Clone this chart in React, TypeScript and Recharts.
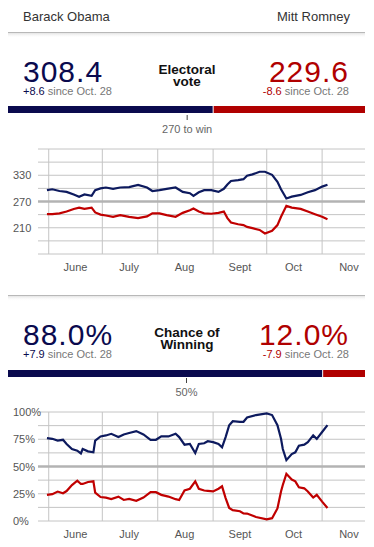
import React from 'react';
import { LineChart, Line, XAxis, YAxis, ReferenceLine, BarChart, Bar } from 'recharts';

const candidates = ['Barack Obama', 'Mitt Romney'];
const electoralNow = [308.4, 229.6];
const electoralChange = [8.6, -8.6];
const chanceNow = [88.0, 12.0];
const chanceChange = [7.9, -7.9];
const totalElectoral = 538;
const toWin = 270;
const sinceLabel = 'since Oct. 28';

// x axis: days counted from June 1
const monthNames = ['June', 'July', 'Aug', 'Sept', 'Oct', 'Nov'];
const monthStarts = [0, 30, 61, 92, 122, 153];
const monthMids = [15, 45, 76, 107, 137, 168];
const dayDomain = [-6, 177];

const evDays = [-1, 2, 6, 10, 14, 17, 20, 24, 26, 29, 32, 36, 40, 45, 50, 55, 58, 62, 66, 71, 75, 79, 81, 84, 87, 91, 95, 98, 100, 102, 106, 109, 111, 114, 118, 121, 125, 128, 130, 133, 136, 141, 145, 149, 153, 156];
const obamaEV = [296, 298, 294, 292, 286, 281, 286, 283, 296, 300, 302, 299, 302, 303, 308, 302, 294, 296, 299, 302, 292, 289, 283, 291, 296, 296, 292, 299, 309, 317, 319, 321, 329, 332, 338, 338, 331, 315, 298, 277, 281, 285, 291, 296, 304, 308.4];
const romneyEV = [241, 241, 243, 247, 253, 256, 253, 256, 245, 240, 238, 235, 239, 235, 232, 236, 243, 243, 239, 235, 244, 250, 254, 247, 243, 242, 244, 247, 232, 222, 218, 216, 212, 209, 205, 197, 203, 216, 235, 260, 256, 253, 247, 241, 235, 229.6];

const chanceDays = [-1, 2, 5, 8, 10, 13, 16, 18, 19, 22, 25, 26, 29, 32, 35, 39, 42, 45, 49, 53, 57, 60, 63, 67, 71, 73, 76, 79, 82, 84, 87, 89, 92, 95, 97, 99, 101, 103, 107, 109, 111, 116, 122, 125, 128, 130, 131, 133, 136, 138, 140, 143, 145, 148, 150, 153, 156];
const obamaChance = [76, 75.4, 73.8, 74.5, 70.7, 66, 64.5, 62, 66, 63.9, 63, 73.8, 77.6, 78.5, 80, 77, 79.4, 80.7, 82.5, 79.4, 74.5, 74.5, 77.6, 77.6, 80, 77, 70, 70.7, 62.3, 70.7, 71.3, 73.2, 72.3, 70.7, 67.6, 77, 87.9, 91.6, 91, 91, 95, 97.2, 98.7, 97.2, 87.9, 75.4, 66, 55.8, 61.4, 63, 69, 70, 72.3, 78.5, 75.4, 81.6, 88];
const romneyChance = [24, 24.6, 27, 25.5, 27.5, 33, 37, 34, 34, 35.8, 36.4, 26, 22, 21.5, 20.2, 22.4, 19.3, 20.2, 18.5, 21.5, 26.4, 26.4, 24, 22.4, 20, 19.3, 28, 29.6, 36.4, 29.6, 28, 27.7, 27.1, 29.6, 31.8, 21, 12, 10, 9, 7, 6.8, 3.7, 1.6, 2.6, 11.5, 27, 33, 43.3, 38, 36.4, 31, 30, 27.1, 21.5, 24, 17.8, 12];

const evTicks = [150, 180, 210, 240, 270, 300, 330, 360, 390];
const evLabels = [210, 270, 330];
const chanceTicks = [0, 12.5, 25, 37.5, 50, 62.5, 75, 87.5, 100];
const chanceLabels = [0, 25, 50, 75, 100];

const NAVY = '#0d1a5e';
const RED = '#c00000';
const BAR_NAVY = '#0a0a4e';
const BAR_RED = '#b00000';
const GRID = '#c4c4c4';
const FONT = '"Liberation Sans", Arial, sans-serif';

const evRows = evDays.map((d, i) => ({ day: d, obama: obamaEV[i], romney: romneyEV[i] }));
const chanceRows = chanceDays.map((d, i) => ({ day: d, obama: obamaChance[i], romney: romneyChance[i] }));

const fmtChange = (v: number) => (v > 0 ? '+' : '') + v.toFixed(1);

const YTick = (props: any) => {
  const { y, payload, labels, fmt } = props;
  if (!labels.includes(payload.value)) return <g />;
  return (
    <text x={13} y={y} dy={4} fill="#555" fontSize={11} fontFamily={FONT}>
      {fmt(payload.value)}
    </text>
  );
};

const RedShape = (p: any) => (
  <rect x={p.x + 1} y={p.y} width={Math.max(0, p.width - 1)} height={p.height} fill={p.fill} />
);

// axes shared by the grid layer and the line layer, so both get the same plot box
function axes(ticks: number[], domain: number[], labels: number[] | null, fmt: any) {
  const show = labels !== null;
  return [
    <XAxis
      key="x0"
      type="number"
      dataKey="day"
      domain={dayDomain}
      ticks={monthStarts}
      interval={0}
      tick={false}
      axisLine={false}
      tickLine={show ? { stroke: GRID } : false}
      tickSize={4}
      height={4}
      allowDataOverflow
    />,
    <XAxis
      key="x1"
      xAxisId="months"
      type="number"
      dataKey="day"
      domain={dayDomain}
      ticks={monthMids}
      interval={0}
      tickFormatter={(v: number) => monthNames[monthMids.indexOf(v)]}
      axisLine={false}
      tickLine={false}
      tickSize={0}
      tickMargin={5}
      height={22}
      tick={show ? { fill: '#555', fontSize: 11 } : false}
      allowDataOverflow
    />,
    <YAxis
      key="y"
      type="number"
      domain={domain}
      ticks={ticks}
      interval={0}
      width={38}
      axisLine={false}
      tickLine={false}
      tick={show ? <YTick labels={labels} fmt={fmt} /> : false}
      allowDataOverflow
    />,
  ];
}

function TrendChart({ rows, ticks, labels, domain, midline, fmt, top, height, marginTop }: any) {
  const margin = { top: marginTop, right: 9, bottom: 0, left: 0 };
  return (
    <div style={{ position: 'absolute', left: 0, top, width: 374, height }}>
      <div style={{ position: 'absolute', left: 0, top: 0 }}>
        <LineChart width={374} height={height} data={rows} margin={margin}>
          {axes(ticks, domain, labels, fmt)}
          {ticks.filter((t: number) => t !== midline).map((t: number) => (
            <ReferenceLine key={'h' + t} y={t} stroke={GRID} strokeWidth={1} />
          ))}
          {monthStarts.map((m) => (
            <ReferenceLine key={'v' + m} x={m} stroke={GRID} strokeWidth={1} />
          ))}
          <ReferenceLine y={midline} stroke="#b3b3b3" strokeWidth={2.5} />
        </LineChart>
      </div>
      <div style={{ position: 'absolute', left: 0, top: 0 }}>
        <LineChart width={374} height={height} data={rows} margin={margin}>
          {axes(ticks, domain, null, fmt)}
          <Line type="linear" dataKey="obama" stroke={NAVY} strokeWidth={2.2} dot={false} isAnimationActive={false} />
          <Line type="linear" dataKey="romney" stroke={RED} strokeWidth={2.2} dot={false} isAnimationActive={false} />
        </LineChart>
      </div>
    </div>
  );
}

function SplitBar({ values, total, top }: any) {
  const rows = [{ name: 'now', obama: values[0], romney: values[1] }];
  return (
    <div style={{ position: 'absolute', left: 8, top }}>
      <BarChart width={357} height={7} data={rows} layout="vertical" margin={{ top: 0, right: 0, bottom: 0, left: 0 }} barCategoryGap={0}>
        <XAxis type="number" domain={[0, total]} hide />
        <YAxis type="category" dataKey="name" hide />
        <Bar dataKey="obama" stackId="a" fill={BAR_NAVY} isAnimationActive={false} />
        <Bar dataKey="romney" stackId="a" fill={BAR_RED} isAnimationActive={false} shape={RedShape} />
      </BarChart>
    </div>
  );
}

function Header({ top, left, right, change, title, mid, midLabel, fmt }: any) {
  // top = y of separator line
  return (
    <g>
      <line x1={8} x2={365} y1={top + 0.5} y2={top + 0.5} stroke="#b8b8b8" />
      <rect x={8} y={top + 1} width={357} height={5} fill="url(#shade)" />
      <text x={23} y={top + 49.5} fontSize={30} letterSpacing={1} fill={BAR_NAVY}>{fmt(left)}</text>
      <text x={349} y={top + 49.5} fontSize={30} letterSpacing={1} textAnchor="end" fill={BAR_RED}>{fmt(right)}</text>
      <text x={23} y={top + 63} fontSize={11} fill="#777">
        <tspan fill={BAR_NAVY}>{fmtChange(change[0])}</tspan> {sinceLabel}
      </text>
      <text x={349} y={top + 63} fontSize={11} fill="#777" textAnchor="end">
        <tspan fill={BAR_RED}>{fmtChange(change[1])}</tspan> {sinceLabel}
      </text>
      <text x={187} y={top + 42} fontSize={13.5} fontWeight="bold" fill="#111" textAnchor="middle">{title[0]}</text>
      <text x={187} y={top + 54} fontSize={13.5} fontWeight="bold" fill="#111" textAnchor="middle">{title[1]}</text>
      <line x1={8 + 357 * mid} x2={8 + 357 * mid} y1={top + 83} y2={top + 88} stroke="#444" />
      <text x={8 + 357 * mid} y={top + 101} fontSize={11} fill="#666" textAnchor="middle">{midLabel}</text>
    </g>
  );
}

export default function App() {
  return (
    <div style={{ position: 'relative', width: 374, height: 547, overflow: 'hidden', background: '#fff', fontFamily: FONT }}>
      <style>{'body{margin:0}'}</style>
      <SplitBar values={electoralNow} total={totalElectoral} top={106} />
      <SplitBar values={chanceNow} total={100} top={370} />
      <TrendChart
        rows={evRows}
        ticks={evTicks}
        labels={evLabels}
        domain={[150, 390]}
        midline={toWin}
        fmt={(v: number) => String(v)}
        top={140}
        height={140}
        marginTop={9}
      />
      <TrendChart
        rows={chanceRows}
        ticks={chanceTicks}
        labels={chanceLabels}
        domain={[0, 100]}
        midline={50}
        fmt={(v: number) => v + '%'}
        top={400}
        height={147}
        marginTop={12}
      />
      <svg width={374} height={547} style={{ position: 'absolute', left: 0, top: 0, pointerEvents: 'none' }} fontFamily={FONT}>
        <defs>
          <linearGradient id="shade" x1="0" y1="0" x2="0" y2="1">
            <stop offset="0" stopColor="#e4e4e4" />
            <stop offset="1" stopColor="#ffffff" stopOpacity={0} />
          </linearGradient>
        </defs>
        <text x={23} y={21} fontSize={13} fill="#333">{candidates[0]}</text>
        <text x={350} y={21} fontSize={13} fill="#333" textAnchor="end">{candidates[1]}</text>
        <Header
          top={32}
          left={electoralNow[0]}
          right={electoralNow[1]}
          change={electoralChange}
          title={['Electoral', 'vote']}
          mid={toWin / totalElectoral}
          midLabel={toWin + ' to win'}
          fmt={(v: number) => v.toFixed(1)}
        />
        <Header
          top={295}
          left={chanceNow[0]}
          right={chanceNow[1]}
          change={chanceChange}
          title={['Chance of', 'Winning']}
          mid={0.5}
          midLabel="50%"
          fmt={(v: number) => v.toFixed(1) + '%'}
        />
      </svg>
    </div>
  );
}
